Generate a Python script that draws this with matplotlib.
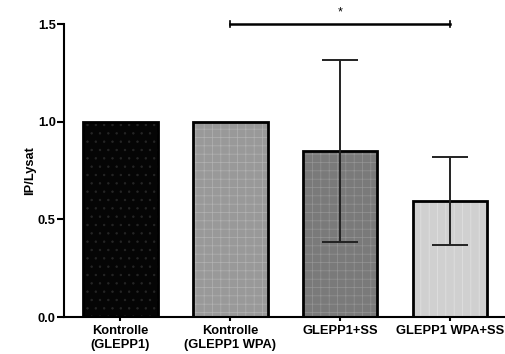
import matplotlib
matplotlib.use("Agg")
import matplotlib.pyplot as plt
import numpy as np

plt.rcParams['font.family'] = ['Liberation Sans', 'DejaVu Sans']
plt.rcParams['hatch.linewidth'] = 0.5

categories = ["Kontrolle\n(GLEPP1)", "Kontrolle\n(GLEPP1 WPA)", "GLEPP1+SS", "GLEPP1 WPA+SS"]
values = [1.0, 1.0, 0.85, 0.595]
errors = [0.0, 0.0, 0.465, 0.225]
face_colors = ["#050505", "#999999", "#7a7a7a", "#d0d0d0"]
hatch_colors = ["#262626", "#b2b2b2", "#959595", "#e2e2e2"]
hatches = ["..", "++", "++", "||"]
yticks = [0.0, 0.5, 1.0, 1.5]
sig_pair = (1, 3)
sig_label = "*"

fig = plt.figure(figsize=(5.05, 3.54), dpi=100)
ax = fig.add_axes([0.127, 0.1045, 0.873, 0.8275])

x = np.arange(len(categories))
width = 0.68
for i in range(len(categories)):
    ax.bar(x[i], values[i], width, color=face_colors[i], edgecolor=hatch_colors[i],
           hatch=hatches[i], linewidth=0, zorder=2)
ax.bar(x, values, width, fill=False, edgecolor="black", linewidth=2, zorder=3)

for i in range(len(categories)):
    if errors[i] > 0:
        ax.errorbar(x[i], values[i], yerr=errors[i], fmt="none", ecolor="#222222",
                    elinewidth=1.4, capsize=13.3, capthick=1.4, zorder=4)

ax.set_xlim(-0.51, 3.5)
ax.set_ylim(0, 1.5)
ax.set_yticks(yticks)
ax.set_yticklabels([f"{t:.1f}" for t in yticks], fontweight="bold", fontsize=9.3)
ax.set_xticks(x)
ax.set_xticklabels(categories, fontweight="bold", fontsize=9.3)
ax.set_ylabel("IP/Lysat", fontweight="bold", fontsize=9.3, labelpad=1)

for s in ["top", "right"]:
    ax.spines[s].set_visible(False)
for s in ["left", "bottom"]:
    ax.spines[s].set_linewidth(1.5)
ax.tick_params(axis="y", length=5, width=1.5, pad=1)
ax.tick_params(axis="x", length=3, width=1.5, pad=3)

# significance bracket
x1, x2 = x[sig_pair[0]], x[sig_pair[1]]
yb = 1.5
ax.plot([x1, x2], [yb, yb], color="black", lw=1.8, clip_on=False, zorder=5)
ax.plot([x1, x1], [yb - 0.015, yb + 0.015], color="black", lw=1.2, clip_on=False)
ax.plot([x2, x2], [yb - 0.015, yb + 0.015], color="black", lw=1.2, clip_on=False)
ax.text((x1 + x2) / 2, yb + 0.03, sig_label, ha="center", va="bottom", fontsize=9)

fig.savefig("out.png", dpi=100)
